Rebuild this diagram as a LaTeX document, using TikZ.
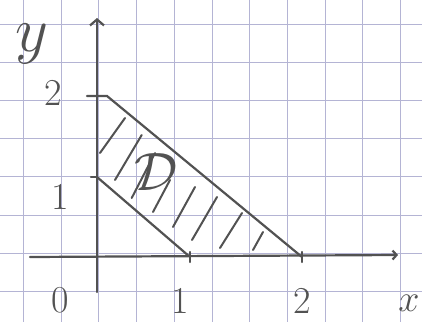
\RequirePackage{fix-cm}
\documentclass[tikz,border=0pt]{standalone}
\usepackage{amsmath,amssymb}
\usetikzlibrary{positioning,arrows.meta}
\definecolor{gridblue}{RGB}{180,180,212}
\definecolor{pengray}{RGB}{82,82,82}
\begin{document}
\begin{tikzpicture}[
  x=1pt,y=-1pt,
  gridline/.style={draw=gridblue,line width=0.9pt},
  pen/.style={draw=pengray,line width=2.2pt,line cap=round},
  hatch/.style={draw=pengray,line width=2pt,line cap=round},
  lbl/.style={text=pengray,inner sep=0pt,font=\fontsize{38}{38}\selectfont}
]
\useasboundingbox[fill=white] (0,0) rectangle (422,322);
\foreach \i in {0,...,10}
  \draw[gridline] (23.5+37.7*\i,0) -- (23.5+37.7*\i,322);
\foreach \j in {0,...,7}
  \draw[gridline] (0,24+38.2*\j) -- (422,24+38.2*\j);
\coordinate (xs) at (30,257);
\coordinate (xe) at (398,255);
\coordinate (ys) at (97,292);
\coordinate (ye) at (97,18);
\coordinate (A) at (107,96);
\coordinate (B) at (97,177);
\coordinate (C) at (190,257);
\coordinate (D) at (302,257);
\draw[pen,-{Straight Barb[length=4pt,width=9pt]}] (xs) -- (xe);
\draw[pen,-{Straight Barb[length=6pt,width=14pt]}] (ys) -- (ye);
\draw[pen] (87,96) -- (A) -- (D);
\draw[pen] (B) -- (C);
\draw[pen] (91,177) -- (B);
\draw[pen] ([yshift=-5]C) -- ([yshift=5]C);
\draw[pen] ([yshift=-5]D) -- ([yshift=5]D);
\foreach \a/\b/\c/\d in {125/118/100/153, 141.7/135/115/180, 155/153/131.7/198,
    170/180/153/212, 195/187/173/227, 217/197/192/240, 242/213/220/248, 263/232/253/250}
  \draw[hatch] (\a,\b) -- (\c,\d);
\node[lbl] (o) at (60,300) {0};
\node[lbl] (x1) at (180,301) {1};
\node[lbl] (x2) at (302,301) {2};
\node[lbl] (y1) at (60,197) {1};
\node[lbl] (y2) at (53,93) {2};
\node[lbl,font=\fontsize{38}{38}\selectfont] (xl) at (409,303) {$x$};
\node[lbl,font=\fontsize{64}{64}\selectfont] (yl) at (32,44) {$y$};
\node[lbl,font=\fontsize{54}{54}\selectfont] (dl) at (156,172) {$\mathcal{D}$};
\end{tikzpicture}
\end{document}
